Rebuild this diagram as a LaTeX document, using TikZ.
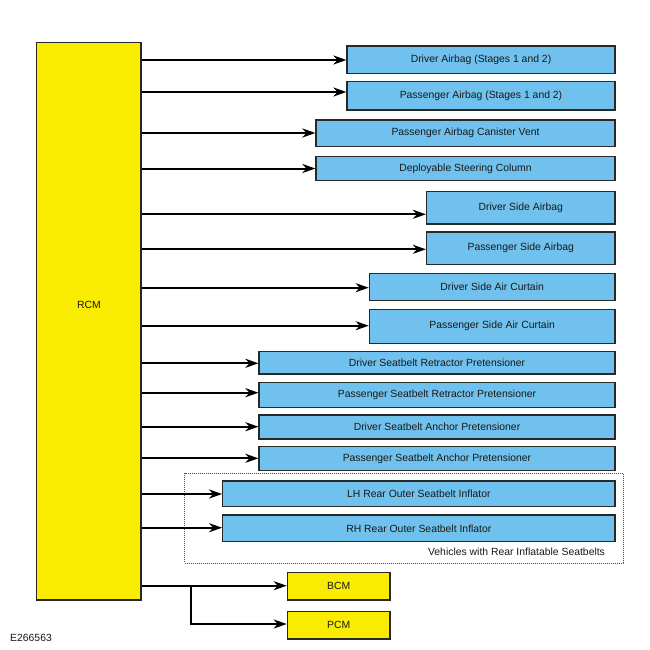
\documentclass[tikz,border=0pt]{standalone}
\usepackage{fontspec}
\setmainfont{Liberation Sans}
\usetikzlibrary{arrows.meta}
\definecolor{rcmyellow}{RGB}{249,236,0}
\definecolor{boxblue}{RGB}{112,193,237}
\definecolor{edgegray}{RGB}{40,40,40}
\begin{document}
\begin{tikzpicture}[x=1pt,y=-1pt,
  txt/.style={font=\fontsize{10.4}{12}\selectfont, text=black!90},
  bbox/.style={draw=edgegray, line width=1.2pt, fill=boxblue, inner sep=0pt, txt},
  ybox/.style={draw=edgegray, line width=1.2pt, fill=rcmyellow, inner sep=0pt, txt},
  arr/.style={line width=2pt, -{Stealth[length=13pt,width=9pt,inset=4pt]}},
  grpframe/.style={draw=black!70, line width=1pt, dash pattern=on 1pt off 1pt, inner sep=0pt}
]
\useasboundingbox (0,0) rectangle (650,650);
% frame for rear inflatable seatbelts
\node[grpframe, minimum width=438.3pt, minimum height=89.7pt] (grp) at (403.85,518.15) {};
\node[txt, anchor=east] (grplabel) at (608.5,551.5) {Vehicles with Rear Inflatable Seatbelts};
% RCM
\node[ybox, minimum width=104.3pt, minimum height=557.7pt] (rcm) at (88.85,321.15) {};
\node[txt] (rcmlabel) at (88.85,305) {RCM};
% target boxes
\node[bbox, minimum width=268pt, minimum height=27.3pt] (b1) at (481,59.7) {Driver Airbag (Stages 1 and 2)};
\node[bbox, minimum width=268pt, minimum height=28.7pt] (b2) at (481,95.7) {Passenger Airbag (Stages 1 and 2)};
\node[bbox, minimum width=299pt, minimum height=26.7pt] (b3) at (465.5,133.3) {Passenger Airbag Canister Vent};
\node[bbox, minimum width=299pt, minimum height=24pt] (b4) at (465.5,168.7) {Deployable Steering Column};
\node[bbox, minimum width=188.5pt, minimum height=32.7pt] (b5) at (520.75,207.7) {Driver Side Airbag};
\node[bbox, minimum width=188.5pt, minimum height=32.7pt] (b6) at (520.75,248.3) {Passenger Side Airbag};
\node[bbox, minimum width=245.7pt, minimum height=27.2pt] (b7) at (492.15,286.9) {Driver Side Air Curtain};
\node[bbox, minimum width=245.7pt, minimum height=34pt] (b8) at (492.15,326.3) {Passenger Side Air Curtain};
\node[bbox, minimum width=356pt, minimum height=22.7pt] (b9) at (437,362.7) {Driver Seatbelt Retractor Pretensioner};
\node[bbox, minimum width=356pt, minimum height=25pt] (b10) at (437,394.8) {Passenger Seatbelt Retractor Pretensioner};
\node[bbox, minimum width=356pt, minimum height=24pt] (b11) at (437,427) {Driver Seatbelt Anchor Pretensioner};
\node[bbox, minimum width=356pt, minimum height=23.8pt] (b12) at (437,458.6) {Passenger Seatbelt Anchor Pretensioner};
\node[bbox, minimum width=392.3pt, minimum height=25.7pt] (b13) at (418.85,493.85) {LH Rear Outer Seatbelt Inflator};
\node[bbox, minimum width=392.3pt, minimum height=26.7pt] (b14) at (418.85,528.35) {RH Rear Outer Seatbelt Inflator};
\node[ybox, minimum width=102.7pt, minimum height=27.3pt] (bcm) at (338.65,586.35) {BCM};
\node[ybox, minimum width=102.7pt, minimum height=27.3pt] (pcm) at (338.65,625.35) {PCM};
% connectors
\draw[arr] (rcm.east |- 0,60) -- (b1.west |- 0,60);
\draw[arr] (rcm.east |- 0,92) -- (b2.west |- 0,92);
\draw[arr] (rcm.east |- 0,133) -- (b3.west |- 0,133);
\draw[arr] (rcm.east |- 0,168.5) -- (b4.west |- 0,168.5);
\draw[arr] (rcm.east |- 0,214.3) -- (b5.west |- 0,214.3);
\draw[arr] (rcm.east |- 0,249.3) -- (b6.west |- 0,249.3);
\draw[arr] (rcm.east |- 0,287.7) -- (b7.west |- 0,287.7);
\draw[arr] (rcm.east |- 0,325.7) -- (b8.west |- 0,325.7);
\draw[arr] (rcm.east |- 0,363.3) -- (b9.west |- 0,363.3);
\draw[arr] (rcm.east |- 0,392.7) -- (b10.west |- 0,392.7);
\draw[arr] (rcm.east |- 0,426.7) -- (b11.west |- 0,426.7);
\draw[arr] (rcm.east |- 0,458.3) -- (b12.west |- 0,458.3);
\draw[arr] (rcm.east |- 0,494) -- (b13.west |- 0,494);
\draw[arr] (rcm.east |- 0,527.7) -- (b14.west |- 0,527.7);
\coordinate (br) at (191,585.7);
\draw[arr] (rcm.east |- br) -- (bcm.west |- br);
\draw[arr] (br) -- (br |- 0,624) -- (pcm.west |- 0,624);
% figure id
\node[txt, anchor=west, inner sep=0pt] (figid) at (10,637.7) {E266563};
\end{tikzpicture}
\end{document}
